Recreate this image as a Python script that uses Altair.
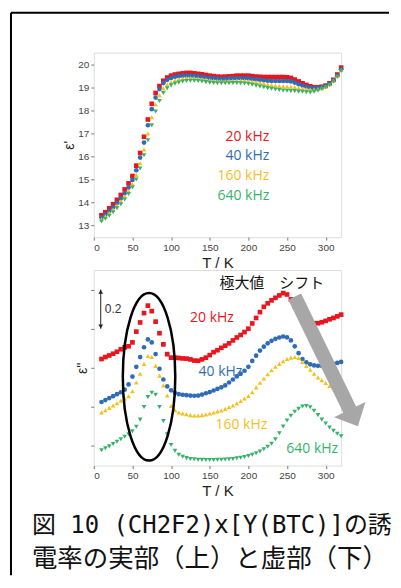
import altair as alt
import pandas as pd

# ---------------- data ----------------
temps = [10, 15, 20, 25, 30, 35, 40, 45, 50, 55, 60, 65, 70, 75, 80, 85, 90, 95, 100,
         105, 110, 115, 120, 125, 130, 135, 140, 145, 150, 155, 160, 165, 170, 175, 180, 185, 190, 195, 200,
         205, 210, 215, 220, 225, 230, 235, 240, 245, 250, 255, 260, 265, 270, 275, 280, 285, 290, 295, 300,
         305, 310, 315, 320]

series = ["20 kHz", "40 kHz", "160 kHz", "640 kHz"]
colors = ["#e8161d", "#2f6cb5", "#f4c01e", "#35b36a"]
shapes = ["square", "circle", "triangle-up", "triangle-down"]
sizes = [22, 22, 30, 30]

# real part  eps'
eps_re_20 = [13.45, 13.58, 13.75, 13.93, 14.12, 14.33, 14.57, 14.83, 15.15, 15.6, 16.15, 16.85, 17.6, 18.28, 18.75, 19.05, 19.28, 19.42, 19.5,
             19.55, 19.58, 19.6, 19.62, 19.62, 19.6, 19.58, 19.56, 19.53, 19.5, 19.48, 19.46, 19.45, 19.46, 19.47, 19.48, 19.5, 19.5, 19.5, 19.5,
             19.48, 19.46, 19.45, 19.44, 19.44, 19.44, 19.44, 19.44, 19.44, 19.43, 19.4, 19.33, 19.25, 19.17, 19.1, 19.04, 19.0, 19.0, 19.02, 19.07,
             19.17, 19.32, 19.55, 19.85]
eps_re_40 = [13.35, 13.48, 13.63, 13.8, 13.98, 14.18, 14.4, 14.65, 14.98, 15.4, 15.95, 16.6, 17.35, 18.05, 18.55, 18.92, 19.18, 19.32, 19.4,
             19.45, 19.48, 19.5, 19.5, 19.5, 19.49, 19.47, 19.45, 19.42, 19.4, 19.38, 19.37, 19.36, 19.36, 19.37, 19.38, 19.39, 19.39, 19.39, 19.38,
             19.36, 19.34, 19.32, 19.3, 19.28, 19.27, 19.27, 19.27, 19.27, 19.27, 19.25, 19.2, 19.13, 19.07, 19.02, 18.98, 18.96, 18.97, 19.0, 19.05,
             19.15, 19.3, 19.5, 19.78]
eps_re_160 = [13.28, 13.4, 13.55, 13.7, 13.87, 14.05, 14.27, 14.5, 14.8, 15.2, 15.7, 16.3, 17.0, 17.7, 18.25, 18.65, 18.95, 19.12, 19.22,
              19.3, 19.35, 19.38, 19.4, 19.4, 19.4, 19.38, 19.36, 19.33, 19.3, 19.28, 19.27, 19.27, 19.27, 19.28, 19.28, 19.29, 19.29, 19.28, 19.27,
              19.25, 19.22, 19.19, 19.16, 19.12, 19.09, 19.07, 19.05, 19.04, 19.03, 19.02, 19.0, 18.97, 18.94, 18.92, 18.9, 18.9, 18.92, 18.96, 19.02,
              19.12, 19.28, 19.48, 19.75]
eps_re_640 = [13.18, 13.3, 13.43, 13.58, 13.75, 13.93, 14.13, 14.37, 14.65, 15.0, 15.48, 16.05, 16.7, 17.35, 17.95, 18.4, 18.75, 18.95, 19.08,
              19.15, 19.2, 19.25, 19.27, 19.28, 19.28, 19.27, 19.25, 19.22, 19.2, 19.18, 19.17, 19.17, 19.17, 19.17, 19.18, 19.18, 19.17, 19.16, 19.14,
              19.11, 19.07, 19.03, 19.0, 18.96, 18.93, 18.9, 18.88, 18.86, 18.85, 18.84, 18.83, 18.81, 18.8, 18.78, 18.77, 18.8, 18.85, 18.92, 19.0,
              19.1, 19.25, 19.45, 19.7]

# imaginary part  eps''  (curves offset, arbitrary units)
eps_im_20 = [0.445, 0.455, 0.463, 0.472, 0.482, 0.495, 0.505, 0.51, 0.53, 0.585, 0.632, 0.68, 0.718, 0.69, 0.636, 0.577, 0.52, 0.47, 0.452,
             0.452, 0.45, 0.448, 0.447, 0.443, 0.437, 0.436, 0.443, 0.452, 0.465, 0.48, 0.49, 0.502, 0.513, 0.525, 0.54, 0.555, 0.568, 0.583, 0.6,
             0.627, 0.655, 0.685, 0.712, 0.73, 0.745, 0.758, 0.77, 0.782, 0.775, 0.75, 0.715, 0.688, 0.665, 0.648, 0.635, 0.628, 0.628, 0.633, 0.64,
             0.648, 0.655, 0.663, 0.672]
eps_im_40 = [0.225, 0.235, 0.245, 0.255, 0.265, 0.275, 0.288, 0.315, 0.355, 0.405, 0.455, 0.505, 0.545, 0.53, 0.47, 0.395, 0.34, 0.305, 0.285,
             0.272, 0.265, 0.262, 0.26, 0.258, 0.257, 0.258, 0.263, 0.27, 0.276, 0.284, 0.292, 0.3, 0.31, 0.325, 0.34, 0.356, 0.37, 0.385, 0.405,
             0.435, 0.462, 0.488, 0.508, 0.525, 0.538, 0.548, 0.555, 0.56, 0.556, 0.54, 0.51, 0.475, 0.445, 0.428, 0.418, 0.412, 0.41, 0.41, 0.412,
             0.415, 0.42, 0.425, 0.43]
eps_im_160 = [0.172, 0.183, 0.195, 0.207, 0.219, 0.232, 0.243, 0.255, 0.28, 0.325, 0.37, 0.42, 0.46, 0.455, 0.41, 0.36, 0.31, 0.258, 0.205,
              0.183, 0.172, 0.166, 0.162, 0.158, 0.156, 0.156, 0.158, 0.161, 0.166, 0.171, 0.177, 0.182, 0.19, 0.198, 0.207, 0.218, 0.23, 0.243, 0.256,
              0.275, 0.3, 0.324, 0.345, 0.367, 0.387, 0.405, 0.42, 0.434, 0.445, 0.452, 0.455, 0.45, 0.43, 0.41, 0.39, 0.37, 0.35, 0.337, 0.322,
              0.307, 0.297, 0.287, 0.28]
eps_im_640 = [-0.022, -0.012, -0.002, 0.01, 0.022, 0.035, 0.047, 0.06, 0.075, 0.098, 0.135, 0.2, 0.25, 0.272, 0.262, 0.2, 0.128, 0.06, 0.005,
              -0.025, -0.045, -0.055, -0.062, -0.066, -0.068, -0.07, -0.071, -0.072, -0.072, -0.072, -0.071, -0.07, -0.069, -0.068, -0.066, -0.063, -0.06, -0.056, -0.051,
              -0.045, -0.037, -0.028, -0.017, -0.004, 0.012, 0.035, 0.065, 0.1, 0.13, 0.155, 0.175, 0.19, 0.202, 0.205, 0.198, 0.18, 0.158, 0.135, 0.115,
              0.095, 0.078, 0.063, 0.05]

x_ticks = [0, 50, 100, 150, 200, 250, 300]
y_ticks_re = [13, 14, 15, 16, 17, 18, 19, 20]
y_ticks_im = [0, 0.2, 0.4, 0.6, 0.8]

x_title = "T / K"
y_title_re = "ε'"
y_title_im = "ε''"
shift_label = "極大値　シフト"
scale_label = "0.2"
caption = ["図 10 (CH2F2)x[Y(BTC)]の誘", "電率の実部（上）と虚部（下）"]


def long_table(value_lists):
    rows = []
    for name, vals in zip(series, value_lists):
        for t, v in zip(temps, vals):
            rows.append({"T": t, "v": v, "f": name})
    return pd.DataFrame(rows)


df_re = long_table([eps_re_20, eps_re_40, eps_re_160, eps_re_640])
df_im = long_table([eps_im_20, eps_im_40, eps_im_160, eps_im_640])

# ---------------- styling helpers ----------------
LAT = "Liberation Sans"
W = 248
xscale = alt.Scale(domain=[0, 320], nice=False, zero=False)
yscale_re = alt.Scale(domain=[12.5, 20.5], nice=False, zero=False)
yscale_im = alt.Scale(domain=[-0.1, 0.9], nice=False, zero=False)
color_enc = alt.Color("f:N", scale=alt.Scale(domain=series, range=colors), legend=None)
shape_enc = alt.Shape("f:N", scale=alt.Scale(domain=series, range=shapes), legend=None)
size_enc = alt.Size("f:N", scale=alt.Scale(domain=series, range=sizes), legend=None)


def x_axis():
    return alt.Axis(values=x_ticks, title=x_title, labelFont=LAT, labelFontSize=10, labelColor="#444",
                    tickColor="#777", tickSize=3, domain=False, grid=False, labelPadding=2,
                    labelOverlap=False,
                    titleFont=LAT, titleFontSize=15, titleFontWeight="normal", titleColor="#222",
                    titlePadding=3)


def y_axis_re():
    return alt.Axis(values=y_ticks_re, title=y_title_re, labelFont=LAT, labelFontSize=10,
                    labelColor="#444", tickColor="#777", tickSize=3, domain=False, grid=False,
                    labelPadding=2, labelOverlap=False, labelSeparation=0, titleFont=LAT,
                    titleFontSize=14, titleFontWeight="normal", titleColor="#222", titlePadding=1)


def y_axis_im():
    return alt.Axis(values=y_ticks_im, labels=False, title=y_title_im, tickColor="#777",
                    tickSize=3, domain=False, grid=False, titleFont=LAT, titleFontSize=14,
                    titleFontWeight="normal", titleColor="#222", titlePadding=1)


# ---------------- upper panel (real part) ----------------
pts_re = alt.Chart(df_re).mark_point(filled=True, opacity=1).encode(
    x=alt.X("T:Q", scale=xscale, axis=x_axis()),
    y=alt.Y("v:Q", scale=yscale_re, axis=y_axis_re()),
    color=color_enc, shape=shape_enc, size=size_enc,
)

leg_re = alt.Chart(pd.DataFrame({"f": series, "T": [227] * 4, "v": [16.84, 16.0, 15.15, 14.27]})).mark_text(
    align="right", baseline="middle", font="Open Sans", fontSize=14).encode(
    x=alt.X("T:Q", scale=xscale, axis=x_axis()),
    y=alt.Y("v:Q", scale=yscale_re, axis=y_axis_re()),
    text="f:N", color=color_enc)

one = pd.DataFrame({"a": [0]})
frame_top = alt.Chart(one).mark_rule(color="black", strokeWidth=2).encode(
    x=alt.value(-83), x2=alt.value(296), y=alt.value(-40))
frame_left = alt.Chart(one).mark_rule(color="black", strokeWidth=2).encode(
    x=alt.value(-83), y=alt.value(-40), y2=alt.value(524))

upper = alt.layer(pts_re, leg_re, frame_top, frame_left).properties(width=W, height=185)

# ---------------- lower panel (imaginary part) ----------------
def xy_im(yfield="v"):
    return dict(x=alt.X("T:Q", scale=xscale, axis=x_axis()),
                y=alt.Y(f"{yfield}:Q", scale=yscale_im, axis=y_axis_im()))


pts_im = alt.Chart(df_im).mark_point(filled=True, opacity=1).encode(
    **xy_im(), color=color_enc, shape=shape_enc, size=size_enc)

ellipse_path = ("M 0.313 0 C 0.313 0.5523 0.1729 1 0 1 C -0.1729 1 -0.313 0.5523 -0.313 0 "
                "C -0.313 -0.5523 -0.1729 -1 0 -1 C 0.1729 -1 0.313 -0.5523 0.313 0 Z")
ellipse = alt.Chart(pd.DataFrame({"T": [71.5], "v": [0.354]})).mark_point(
    shape=ellipse_path, filled=False, color="black", strokeWidth=2.5, size=28224, opacity=1).encode(
    **xy_im())

arrow_path = ("M -0.099 -1 L 0.099 -1 L 0.099 0.741 L 0.242 0.741 L 0 1 "
              "L -0.242 0.741 L -0.099 0.741 Z")
arrow = alt.Chart(pd.DataFrame({"T": [300.8], "v": [0.432]})).mark_point(
    shape=arrow_path, filled=True, color="#a7a7a7", opacity=1, size=20909, angle=334,
    strokeWidth=0).encode(**xy_im())

bar_df = pd.DataFrame({"T": [9], "lo": [0.6], "hi": [0.8]})
bar_rule = alt.Chart(bar_df).mark_rule(color="#222", strokeWidth=1).encode(
    **xy_im("lo"), y2="hi:Q")
bar_top = alt.Chart(bar_df).mark_point(shape="triangle-up", filled=True, color="#222", opacity=1,
                                       size=22, yOffset=2.2).encode(**xy_im("hi"))
bar_bot = alt.Chart(bar_df).mark_point(shape="triangle-down", filled=True, color="#222", opacity=1,
                                       size=22, yOffset=-2.2).encode(**xy_im("lo"))
bar_txt = alt.Chart(pd.DataFrame({"T": [14.2], "v": [0.7], "s": [scale_label]})).mark_text(
    align="left", baseline="middle", font=LAT, fontSize=12, color="#333").encode(
    **xy_im(), text="s:N")

lab_im = alt.Chart(pd.DataFrame({"f": series, "T": [152.9, 163.9, 191.0, 282.6],
                                 "v": [0.655, 0.381, 0.109, -0.015]})).mark_text(
    align="center", baseline="middle", font="Open Sans", fontSize=14).encode(
    **xy_im(), text="f:N", color=color_enc)

shift_txt = alt.Chart(pd.DataFrame({"T": [162.6], "v": [0.832], "s": [shift_label]})).mark_text(
    align="left", baseline="middle", font="Noto Sans CJK JP", fontSize=15, color="#111").encode(
    **xy_im(), text="s:N")

cap1 = alt.Chart(pd.DataFrame({"c": [caption[0]]})).mark_text(
    align="left", baseline="middle", font="DejaVu Sans Mono, Noto Sans CJK JP", fontSize=24,
    color="#111").encode(x=alt.value(-62), y=alt.value(257), text="c:N")
cap2 = alt.Chart(pd.DataFrame({"c": [caption[1]]})).mark_text(
    align="left", baseline="middle", font="Noto Sans CJK JP", fontSize=25.5,
    color="#111").encode(x=alt.value(-62), y=alt.value(290), text="c:N")

lower = alt.layer(pts_im, ellipse, arrow, bar_rule, bar_top, bar_bot, bar_txt, lab_im, shift_txt,
                  cap1, cap2).properties(width=W, height=196)

chart = alt.vconcat(upper, lower, spacing=33, bounds="flush").properties(
    padding={"left": 1, "top": 2, "right": 0, "bottom": 0}
).configure_view(stroke="#8a8a8a", strokeWidth=1, fill="white").configure_axis(
    labelOverlap=False).configure(background="white")

chart.save("out.html", embed_options={"renderer": "svg", "actions": False})
